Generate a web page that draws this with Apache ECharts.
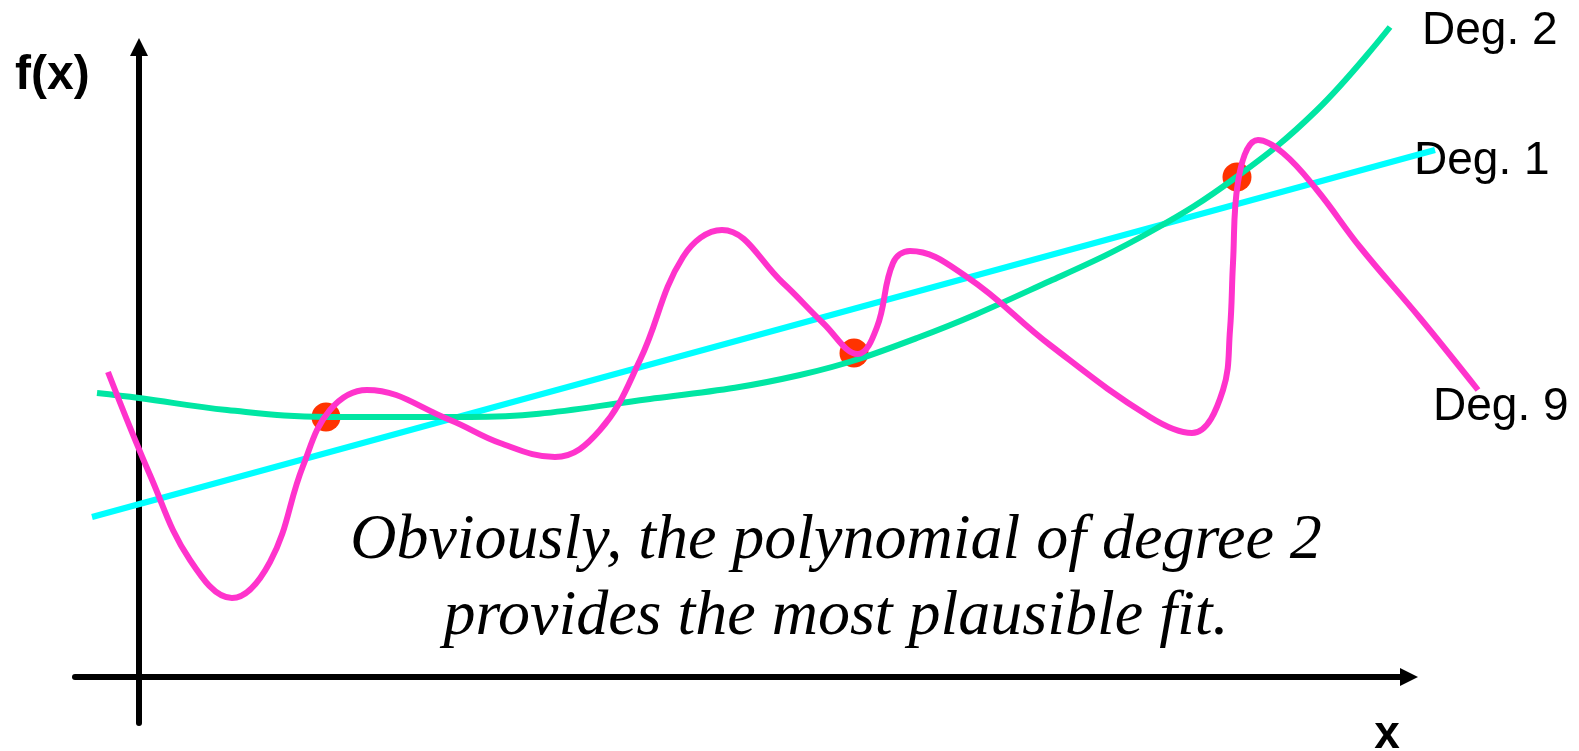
<!DOCTYPE html>
<html>
<head>
<meta charset="utf-8">
<script src="https://cdn.jsdelivr.net/npm/echarts@6/dist/echarts.min.js"></script>
<style>
    html, body { margin: 0; padding: 0; background: #fff; }
    #chart { width: 1579px; height: 751px; }
</style>
</head>
<body>
<div id="chart"></div>
<script>
    // x, f(x) in picture units, origin where the two axes cross
    var samplePts = [[187, 260], [715, 324], [1098, 500]]

    var deg1Pts = [[-47, 160], [1296, 527]]

    var deg2Pts = [
        [-42, 284], [0, 279], [88, 267], [187, 260], [331, 260], [511, 278],
        [661, 302], [778, 339], [911, 396], [1011, 445], [1096, 499], [1178, 567],
        [1251, 650]
    ]

    var deg9Pts = [
        [-31, 305], [11, 202], [51, 117], [93, 79], [131, 115], [164, 211],
        [191, 267], [228, 287], [311, 257], [361, 234], [416, 220], [461, 247],
        [501, 317], [544, 420], [583, 447], [644, 394], [684, 354], [719, 323],
        [738, 350], [754, 414], [771, 426], [828, 400], [911, 332], [1011, 260],
        [1053, 244], [1084, 287], [1091, 347], [1094, 414], [1099, 495], [1119, 537],
        [1144, 524], [1178, 487], [1221, 430], [1281, 359], [1339, 287]
    ]

    var labels = ['Deg. 2', 'Deg. 1', 'Deg. 9']
    var note = 'Obviously, the polynomial of degree 2\nprovides the most plausible fit.'

    var chart = echarts.init(document.getElementById('chart'))

    var sansFont = '46px "Liberation Sans", Arial, sans-serif'
    var hiddenAxis = {
        show: false,
        splitLine: {show: false}
    }
    var arrowLine = {
        show: true,
        onZero: true,
        symbol: ['none', 'triangle'],
        symbolSize: [18, 18],
        lineStyle: {color: '#000', width: 6}
    }

    chart.setOption({
        animation: false,
        backgroundColor: '#fff',
        grid: [
            // the drawn axes
            {left: 75, right: 170, top: 47, bottom: 28},
            // same scale, wider, so the curves are not cut at the arrow tips
            {left: 75, right: 0, top: 0, bottom: 28}
        ],
        xAxis: [
            {
                type: 'value', gridIndex: 0, min: -64, max: 1270,
                splitLine: {show: false}, axisTick: {show: false}, axisLabel: {show: false},
                axisLine: arrowLine
            },
            Object.assign({type: 'value', gridIndex: 1, min: -64, max: 1440}, hiddenAxis)
        ],
        yAxis: [
            {
                type: 'value', gridIndex: 0, min: -46, max: 630,
                splitLine: {show: false}, axisTick: {show: false}, axisLabel: {show: false},
                axisLine: arrowLine
            },
            Object.assign({type: 'value', gridIndex: 1, min: -46, max: 677}, hiddenAxis)
        ],
        series: [
            {
                name: 'samples',
                type: 'scatter',
                xAxisIndex: 1,
                yAxisIndex: 1,
                data: samplePts,
                symbol: 'circle',
                symbolSize: 29,
                clip: false,
                itemStyle: {color: '#FF3300', opacity: 1}
            },
            {
                name: labels[1],
                type: 'line',
                xAxisIndex: 1,
                yAxisIndex: 1,
                data: deg1Pts,
                showSymbol: false,
                clip: false,
                lineStyle: {color: '#00FFFF', width: 6}
            },
            {
                name: labels[0],
                type: 'line',
                xAxisIndex: 1,
                yAxisIndex: 1,
                data: deg2Pts,
                smooth: 0.4,
                showSymbol: false,
                clip: false,
                lineStyle: {color: '#00E6A3', width: 6}
            },
            {
                name: labels[2],
                type: 'line',
                xAxisIndex: 1,
                yAxisIndex: 1,
                data: deg9Pts,
                smooth: 0.4,
                showSymbol: false,
                clip: false,
                lineStyle: {color: '#FF33CC', width: 6}
            }
        ],
        graphic: [
            {
                type: 'text', x: 15, y: 52,
                style: {text: 'f(x)', font: 'bold 48px "Liberation Sans", Arial, sans-serif', fill: '#000', textVerticalAlign: 'top'}
            },
            {
                type: 'text', x: 1387, y: 712,
                style: {text: 'x', font: 'bold 46px "Liberation Sans", Arial, sans-serif', fill: '#000', textAlign: 'center', textVerticalAlign: 'top'}
            },
            {
                type: 'text', x: 1422, y: 8,
                style: {text: labels[0], font: sansFont, fill: '#000', textVerticalAlign: 'top'}
            },
            {
                type: 'text', x: 1414, y: 138,
                style: {text: labels[1], font: sansFont, fill: '#000', textVerticalAlign: 'top'}
            },
            {
                type: 'text', x: 1433, y: 384,
                style: {text: labels[2], font: sansFont, fill: '#000', textVerticalAlign: 'top'}
            },
            {
                type: 'text', x: 836, y: 503,
                style: {
                    text: note,
                    font: 'italic 64px "Liberation Serif", "Times New Roman", serif',
                    lineHeight: 76,
                    fill: '#000',
                    textAlign: 'center',
                    textVerticalAlign: 'top'
                }
            }
        ]
    })
</script>
</body>
</html>
